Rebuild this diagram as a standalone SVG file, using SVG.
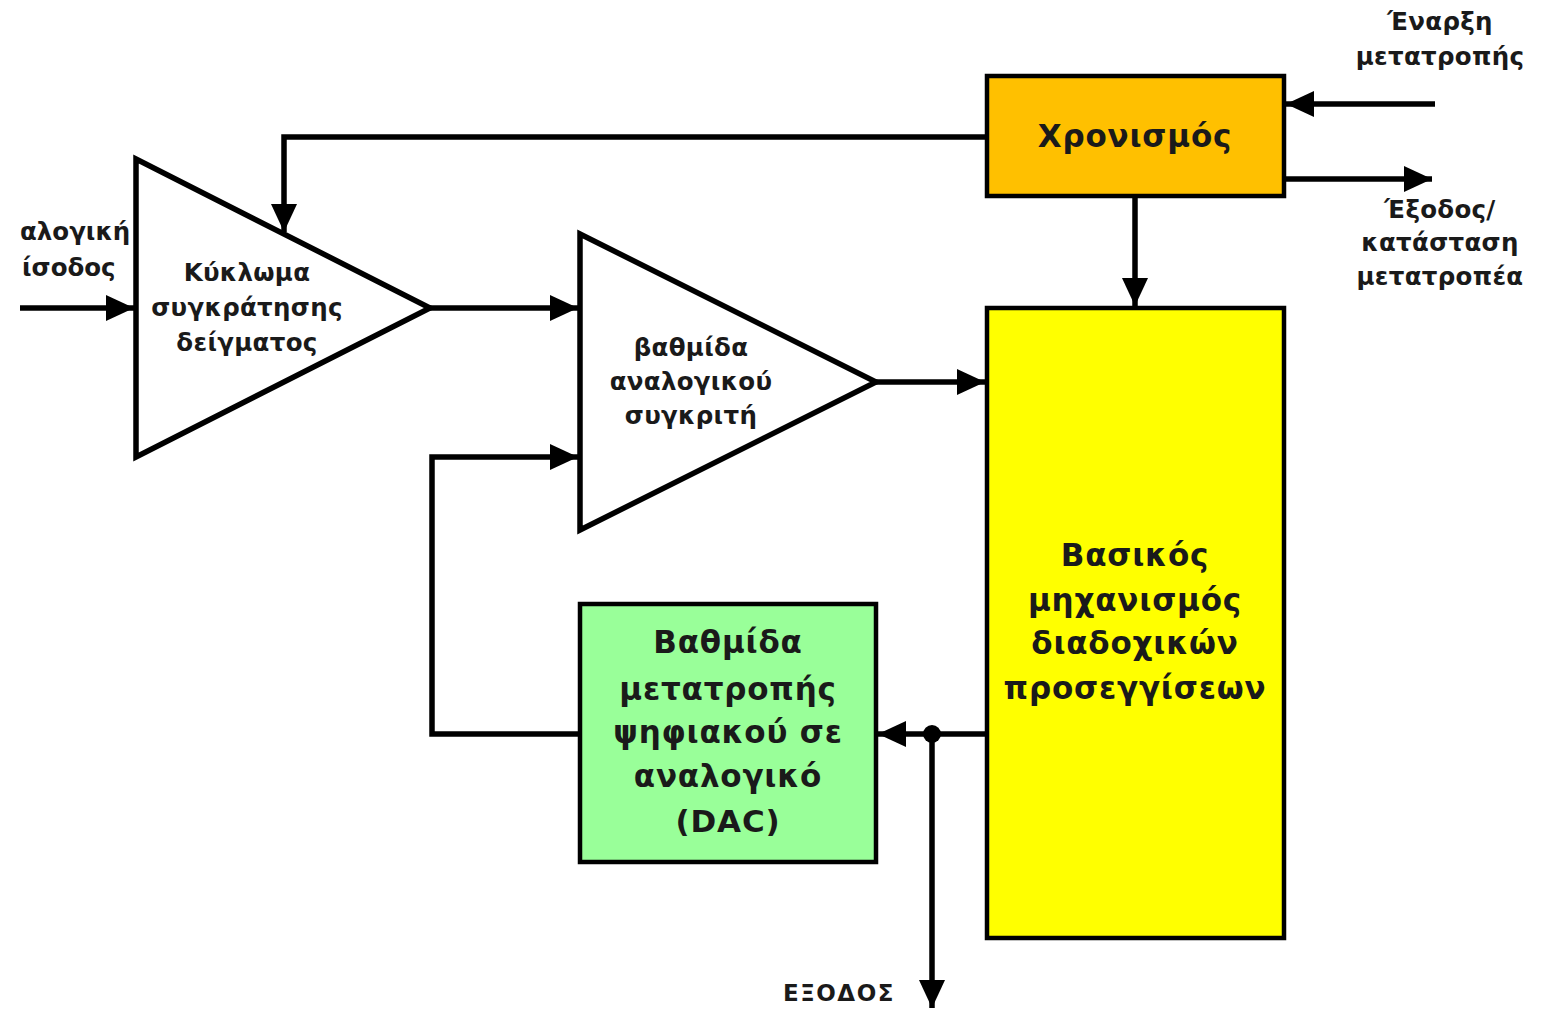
<svg xmlns="http://www.w3.org/2000/svg" width="1548" height="1011" viewBox="0 0 1548 1011">
<defs>
<marker id="arr" markerUnits="userSpaceOnUse" markerWidth="30" markerHeight="28" refX="28" refY="13" orient="auto">
<path d="M0,0 L28,13 L0,26 Z" fill="#000"/>
</marker>
<style>
.box{stroke:#000;stroke-width:4.5}
.tri{fill:#fff;stroke:#000;stroke-width:5.5;stroke-linejoin:miter}
.con{fill:none;stroke:#000;stroke-width:5.5}
text{font-family:"DejaVu Sans","Liberation Sans",sans-serif;font-weight:bold;fill:#1a1a1a;text-anchor:middle}
.s{font-size:24.5px;letter-spacing:0.3px}
.m{font-size:31px;letter-spacing:0.8px}
</style>
</defs>
<rect width="1548" height="1011" fill="#fff"/>
<g id="connectors">
<path class="con" d="M20,308 H134" marker-end="url(#arr)"/>
<path class="con" d="M987,137 H284 V232" marker-end="url(#arr)"/>
<path class="con" d="M430,308 H578" marker-end="url(#arr)"/>
<path class="con" d="M876,382 H985" marker-end="url(#arr)"/>
<path class="con" d="M1135,196 V306" marker-end="url(#arr)"/>
<path class="con" d="M1435,104 H1286" marker-end="url(#arr)"/>
<path class="con" d="M1284,179 H1432" marker-end="url(#arr)"/>
<path class="con" d="M987,734 H878" marker-end="url(#arr)"/>
<path class="con" d="M932,734 V1008" marker-end="url(#arr)"/>
<circle cx="932" cy="734" r="9" fill="#000"/>
<path class="con" d="M580,734 H432 V457 H578" marker-end="url(#arr)"/>
</g>
<g id="sample-hold">
<path class="tri" d="M136,159 L430,308 L136,457 Z"/>
<text class="s" x="247" y="281">Κύκλωμα</text>
<text class="s" x="247" y="316">συγκράτησης</text>
<text class="s" x="247" y="351">δείγματος</text>
</g>
<g id="comparator">
<path class="tri" d="M580,234 L876,382 L580,530 Z"/>
<text class="s" x="691" y="356">βαθμίδα</text>
<text class="s" x="691" y="390">αναλογικού</text>
<text class="s" x="691" y="424">συγκριτή</text>
</g>
<g id="timing">
<rect class="box" x="987" y="76" width="297" height="120" fill="#FFC000"/>
<text class="m" x="1135" y="147">Χρονισμός</text>
</g>
<g id="sar">
<rect class="box" x="987" y="308" width="297" height="630" fill="#FFFF00"/>
<text class="m" x="1135" y="566">Βασικός</text>
<text class="m" x="1135" y="611">μηχανισμός</text>
<text class="m" x="1135" y="654">διαδοχικών</text>
<text class="m" x="1135" y="699">προσεγγίσεων</text>
</g>
<g id="dac">
<rect class="box" x="580" y="604" width="296" height="258" fill="#99FF99"/>
<text class="m" x="728" y="653">Βαθμίδα</text>
<text class="m" x="728" y="700">μετατροπής</text>
<text class="m" x="728" y="743">ψηφιακού σε</text>
<text class="m" x="728" y="787">αναλογικό</text>
<text class="m" x="728" y="832">(DAC)</text>
</g>
<g id="labels">
<text class="s" x="20" y="240" style="text-anchor:start;letter-spacing:0">αλογική</text>
<text class="s" x="22" y="276" style="text-anchor:start;letter-spacing:0">ίσοδος</text>
<text class="s" x="1440" y="30">Έναρξη</text>
<text class="s" x="1440" y="65">μετατροπής</text>
<text class="s" x="1440" y="218">Έξοδος/</text>
<text class="s" x="1440" y="251">κατάσταση</text>
<text class="s" x="1440" y="285">μετατροπέα</text>
<text class="s" x="839" y="1001" style="font-size:23px;letter-spacing:1.5px">ΕΞΟΔΟΣ</text>
</g>
</svg>
